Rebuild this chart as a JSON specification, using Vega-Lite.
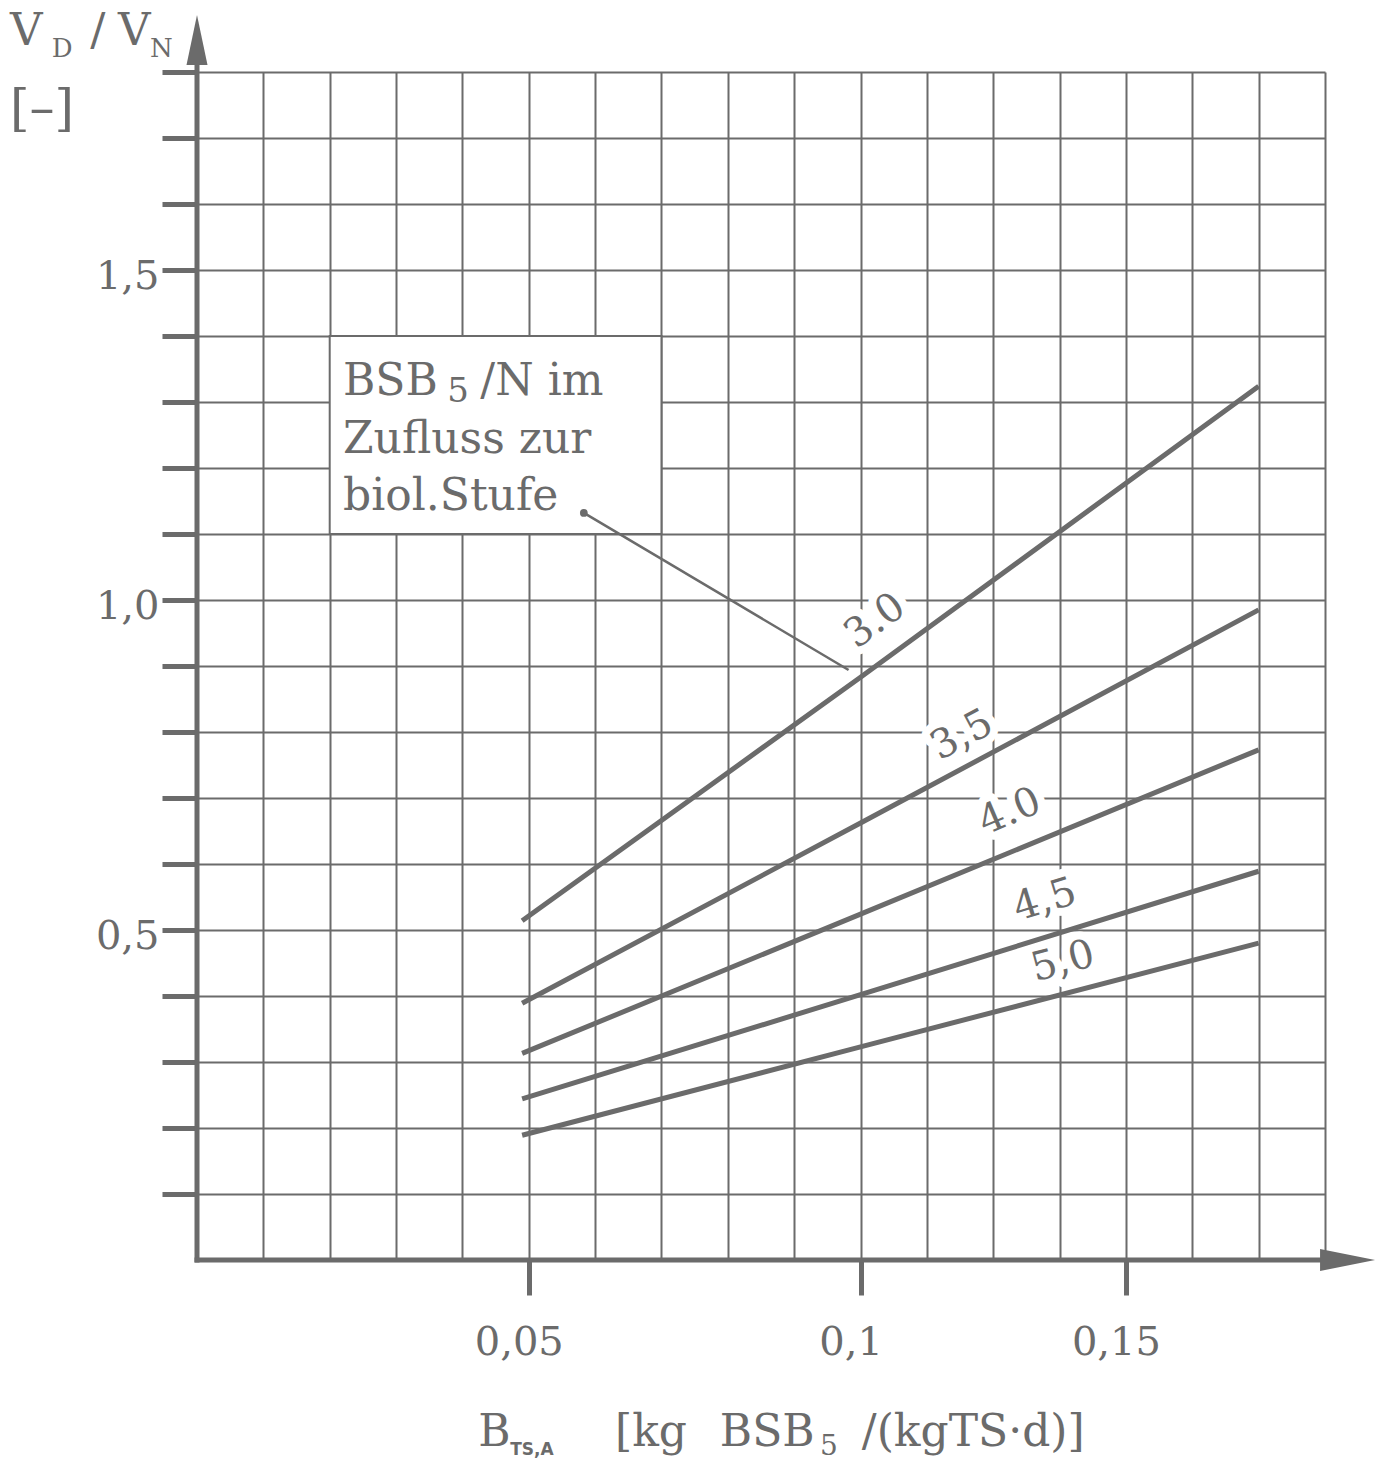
{
  "$schema": "https://vega.github.io/schema/vega-lite/v6.json",
  "width": 1128,
  "height": 1188,
  "autosize": "none",
  "padding": {"left": 197, "top": 72, "right": 58, "bottom": 201},
  "background": "white",
  "config": {"view": {"stroke": null}},
  "datasets": {
    "curves": [
      {"ratio": "3.0", "x": 0.049, "y": 0.514},
      {"ratio": "3.0", "x": 0.10, "y": 0.883},
      {"ratio": "3.0", "x": 0.16, "y": 1.324},
      {"ratio": "3.5", "x": 0.049, "y": 0.389},
      {"ratio": "3.5", "x": 0.10, "y": 0.662},
      {"ratio": "3.5", "x": 0.16, "y": 0.985},
      {"ratio": "4.0", "x": 0.049, "y": 0.313},
      {"ratio": "4.0", "x": 0.10, "y": 0.524},
      {"ratio": "4.0", "x": 0.16, "y": 0.773},
      {"ratio": "4.5", "x": 0.049, "y": 0.244},
      {"ratio": "4.5", "x": 0.10, "y": 0.402},
      {"ratio": "4.5", "x": 0.16, "y": 0.589},
      {"ratio": "5.0", "x": 0.049, "y": 0.189},
      {"ratio": "5.0", "x": 0.10, "y": 0.323},
      {"ratio": "5.0", "x": 0.16, "y": 0.480}
    ],
    "axes": [
      {"x": 0, "x2": 0, "y": 0, "y2": 1.83},
      {"x": 0, "x2": 0.172, "y": 0, "y2": 0}
    ],
    "arrows": [
      {"dir": "up", "x": 0, "y": 1.8485},
      {"dir": "right", "x": 0.1734, "y": 0}
    ],
    "box": [{"x": 0.02, "x2": 0.07, "y": 1.1, "y2": 1.4}],
    "boxtext": [
      {"part": "main", "text": "BSB", "x": 0.022, "y": 1.3106},
      {"part": "sub", "text": "5", "x": 0.0377, "y": 1.3},
      {"part": "main", "text": "/N im", "x": 0.0427, "y": 1.3106},
      {"part": "main", "text": "Zufluss zur", "x": 0.022, "y": 1.2227},
      {"part": "main", "text": "biol.Stufe", "x": 0.022, "y": 1.1364}
    ],
    "leader": [
      {"end": "start", "x": 0.0583, "y": 1.132},
      {"end": "end", "x": 0.0982, "y": 0.894}
    ],
    "clabels": [
      {"label": "3.0", "x": 0.1022, "y": 0.968},
      {"label": "3,5", "x": 0.1153, "y": 0.795},
      {"label": "4.0", "x": 0.1225, "y": 0.679},
      {"label": "4,5", "x": 0.1278, "y": 0.545},
      {"label": "5,0", "x": 0.1305, "y": 0.452}
    ],
    "titles": [
      {"grp": "ymain", "text": "V", "x": -0.0282, "y": 1.841},
      {"grp": "ysub", "text": "D", "x": -0.0219, "y": 1.8227},
      {"grp": "ymain", "text": "/", "x": -0.0161, "y": 1.841},
      {"grp": "ymain", "text": "V", "x": -0.0119, "y": 1.841},
      {"grp": "ysub", "text": "N", "x": -0.0071, "y": 1.8227},
      {"grp": "ybr", "text": "[–]", "x": -0.0282, "y": 1.72},
      {"grp": "xmain", "text": "B", "x": 0.0424, "y": -0.2818},
      {"grp": "xsmall", "text": "TS,A", "x": 0.0472, "y": -0.2955},
      {"grp": "xmain", "text": "[kg", "x": 0.063, "y": -0.2818},
      {"grp": "xmain", "text": "BSB", "x": 0.0788, "y": -0.2818},
      {"grp": "xsub", "text": "5", "x": 0.0939, "y": -0.2955},
      {"grp": "xmain", "text": "/(kgTS·d)]", "x": 0.1002, "y": -0.2818}
    ]
  },
  "encoding": {
    "x": {
      "field": "x",
      "type": "quantitative",
      "scale": {"domain": [0, 0.17], "nice": false, "zero": false},
      "axis": {
        "values": [0.01, 0.02, 0.03, 0.04, 0.05, 0.06, 0.07, 0.08, 0.09, 0.1, 0.11, 0.12, 0.13, 0.14, 0.15, 0.16, 0.17],
        "grid": true,
        "gridColor": "#6b6b6b",
        "gridWidth": 2,
        "gridOpacity": 1,
        "domain": false,
        "ticks": true,
        "tickSize": 35,
        "tickWidth": 5,
        "tickColor": "#6b6b6b",
        "tickOpacity": {"condition": {"test": "datum.value == 0.05 || datum.value == 0.1 || datum.value == 0.14", "value": 1}, "value": 0},
        "labelExpr": "datum.value == 0.05 ? '0,05' : datum.value == 0.1 ? '0,1' : datum.value == 0.14 ? '0,15' : ''",
        "labelFont": "DejaVu Serif",
        "labelFontSize": 40,
        "labelColor": "#6b6b6b",
        "labelPadding": 27,
        "labelOffset": -10,
        "labelFlush": false,
        "labelOverlap": false,
        "labelBound": false,
        "title": null
      }
    },
    "y": {
      "field": "y",
      "type": "quantitative",
      "scale": {"domain": [0, 1.8], "nice": false, "zero": false},
      "axis": {
        "values": [0.1, 0.2, 0.3, 0.4, 0.5, 0.6, 0.7, 0.8, 0.9, 1, 1.1, 1.2, 1.3, 1.4, 1.5, 1.6, 1.7, 1.8],
        "grid": true,
        "gridColor": "#6b6b6b",
        "gridWidth": 2,
        "gridOpacity": 1,
        "domain": false,
        "ticks": true,
        "tickSize": 35,
        "tickWidth": 5,
        "tickColor": "#6b6b6b",
        "labelExpr": "datum.value == 0.5 ? '0,5' : datum.value == 1 ? '1,0' : datum.value == 1.5 ? '1,5' : ''",
        "labelFont": "DejaVu Serif",
        "labelFontSize": 40,
        "labelColor": "#6b6b6b",
        "labelPadding": 3,
        "labelOffset": 6,
        "labelFlush": false,
        "labelOverlap": false,
        "labelBound": false,
        "title": null
      }
    }
  },
  "layer": [
    {
      "data": {"name": "box"},
      "mark": {"type": "rect", "fill": "white", "stroke": "#6b6b6b", "strokeWidth": 2},
      "encoding": {"x2": {"field": "x2"}, "y2": {"field": "y2"}}
    },
    {
      "data": {"name": "clabels"},
      "transform": [{"filter": "datum.label == '3.0'"}],
      "mark": {"type": "text", "angle": 324, "fontSize": 40, "font": "DejaVu Serif", "fill": "white", "stroke": "white", "strokeWidth": 16, "strokeJoin": "round", "align": "center", "baseline": "middle"},
      "encoding": {"text": {"field": "label"}}
    },
    {
      "data": {"name": "clabels"},
      "transform": [{"filter": "datum.label == '3,5'"}],
      "mark": {"type": "text", "angle": 332, "fontSize": 40, "font": "DejaVu Serif", "fill": "white", "stroke": "white", "strokeWidth": 16, "strokeJoin": "round", "align": "center", "baseline": "middle"},
      "encoding": {"text": {"field": "label"}}
    },
    {
      "data": {"name": "clabels"},
      "transform": [{"filter": "datum.label == '4.0'"}],
      "mark": {"type": "text", "angle": 337, "fontSize": 40, "font": "DejaVu Serif", "fill": "white", "stroke": "white", "strokeWidth": 16, "strokeJoin": "round", "align": "center", "baseline": "middle"},
      "encoding": {"text": {"field": "label"}}
    },
    {
      "data": {"name": "clabels"},
      "transform": [{"filter": "datum.label == '4,5'"}],
      "mark": {"type": "text", "angle": 343, "fontSize": 40, "font": "DejaVu Serif", "fill": "white", "stroke": "white", "strokeWidth": 16, "strokeJoin": "round", "align": "center", "baseline": "middle"},
      "encoding": {"text": {"field": "label"}}
    },
    {
      "data": {"name": "clabels"},
      "transform": [{"filter": "datum.label == '5,0'"}],
      "mark": {"type": "text", "angle": 345, "fontSize": 40, "font": "DejaVu Serif", "fill": "white", "stroke": "white", "strokeWidth": 16, "strokeJoin": "round", "align": "center", "baseline": "middle"},
      "encoding": {"text": {"field": "label"}}
    },
    {
      "data": {"name": "axes"},
      "mark": {"type": "rule", "color": "#6b6b6b", "strokeWidth": 5, "strokeCap": "square"},
      "encoding": {"x2": {"field": "x2"}, "y2": {"field": "y2"}}
    },
    {
      "data": {"name": "arrows"},
      "transform": [{"filter": "datum.dir == 'up'"}],
      "mark": {"type": "point", "shape": "M0,-1L0.42,1L-0.42,1Z", "size": 2500, "filled": true, "color": "#6b6b6b", "opacity": 1, "strokeWidth": 0}
    },
    {
      "data": {"name": "arrows"},
      "transform": [{"filter": "datum.dir == 'right'"}],
      "mark": {"type": "point", "shape": "M1,0L-1,-0.4L-1,0.4Z", "size": 3025, "filled": true, "color": "#6b6b6b", "opacity": 1, "strokeWidth": 0}
    },
    {
      "data": {"name": "curves"},
      "mark": {"type": "line", "color": "#6b6b6b", "strokeWidth": 5},
      "encoding": {"detail": {"field": "ratio", "type": "nominal"}}
    },
    {
      "data": {"name": "leader"},
      "mark": {"type": "line", "color": "#6b6b6b", "strokeWidth": 2.5},
      "encoding": {}
    },
    {
      "data": {"name": "leader"},
      "transform": [{"filter": "datum.end == 'start'"}],
      "mark": {"type": "point", "filled": true, "size": 60, "color": "#6b6b6b", "opacity": 1}
    },
    {
      "data": {"name": "clabels"},
      "transform": [{"filter": "datum.label == '3.0'"}],
      "mark": {"type": "text", "angle": 324, "fontSize": 40, "font": "DejaVu Serif", "color": "#6b6b6b", "align": "center", "baseline": "middle"},
      "encoding": {"text": {"field": "label"}}
    },
    {
      "data": {"name": "clabels"},
      "transform": [{"filter": "datum.label == '3,5'"}],
      "mark": {"type": "text", "angle": 332, "fontSize": 40, "font": "DejaVu Serif", "color": "#6b6b6b", "align": "center", "baseline": "middle"},
      "encoding": {"text": {"field": "label"}}
    },
    {
      "data": {"name": "clabels"},
      "transform": [{"filter": "datum.label == '4.0'"}],
      "mark": {"type": "text", "angle": 337, "fontSize": 40, "font": "DejaVu Serif", "color": "#6b6b6b", "align": "center", "baseline": "middle"},
      "encoding": {"text": {"field": "label"}}
    },
    {
      "data": {"name": "clabels"},
      "transform": [{"filter": "datum.label == '4,5'"}],
      "mark": {"type": "text", "angle": 343, "fontSize": 40, "font": "DejaVu Serif", "color": "#6b6b6b", "align": "center", "baseline": "middle"},
      "encoding": {"text": {"field": "label"}}
    },
    {
      "data": {"name": "clabels"},
      "transform": [{"filter": "datum.label == '5,0'"}],
      "mark": {"type": "text", "angle": 345, "fontSize": 40, "font": "DejaVu Serif", "color": "#6b6b6b", "align": "center", "baseline": "middle"},
      "encoding": {"text": {"field": "label"}}
    },
    {
      "data": {"name": "boxtext"},
      "transform": [{"filter": "datum.part == 'main'"}],
      "mark": {"type": "text", "align": "left", "baseline": "alphabetic", "fontSize": 44, "font": "DejaVu Serif", "color": "#6b6b6b"},
      "encoding": {"text": {"field": "text"}}
    },
    {
      "data": {"name": "boxtext"},
      "transform": [{"filter": "datum.part == 'sub'"}],
      "mark": {"type": "text", "align": "left", "baseline": "alphabetic", "fontSize": 34, "font": "DejaVu Serif", "color": "#6b6b6b"},
      "encoding": {"text": {"field": "text"}}
    },
    {
      "data": {"name": "titles"},
      "transform": [{"filter": "datum.grp == 'ymain'"}],
      "mark": {"type": "text", "align": "left", "baseline": "alphabetic", "fontSize": 45, "font": "DejaVu Serif", "color": "#6b6b6b"},
      "encoding": {"text": {"field": "text"}}
    },
    {
      "data": {"name": "titles"},
      "transform": [{"filter": "datum.grp == 'ysub'"}],
      "mark": {"type": "text", "align": "left", "baseline": "alphabetic", "fontSize": 26, "font": "DejaVu Serif", "color": "#6b6b6b"},
      "encoding": {"text": {"field": "text"}}
    },
    {
      "data": {"name": "titles"},
      "transform": [{"filter": "datum.grp == 'ybr'"}],
      "mark": {"type": "text", "align": "left", "baseline": "alphabetic", "fontSize": 50, "font": "DejaVu Serif", "color": "#6b6b6b"},
      "encoding": {"text": {"field": "text"}}
    },
    {
      "data": {"name": "titles"},
      "transform": [{"filter": "datum.grp == 'xmain'"}],
      "mark": {"type": "text", "align": "left", "baseline": "alphabetic", "fontSize": 44, "font": "DejaVu Serif", "color": "#6b6b6b"},
      "encoding": {"text": {"field": "text"}}
    },
    {
      "data": {"name": "titles"},
      "transform": [{"filter": "datum.grp == 'xsmall'"}],
      "mark": {"type": "text", "align": "left", "baseline": "alphabetic", "fontSize": 17, "font": "DejaVu Sans", "fontWeight": "bold", "color": "#6b6b6b"},
      "encoding": {"text": {"field": "text"}}
    },
    {
      "data": {"name": "titles"},
      "transform": [{"filter": "datum.grp == 'xsub'"}],
      "mark": {"type": "text", "align": "left", "baseline": "alphabetic", "fontSize": 28, "font": "DejaVu Serif", "color": "#6b6b6b"},
      "encoding": {"text": {"field": "text"}}
    }
  ]
}
